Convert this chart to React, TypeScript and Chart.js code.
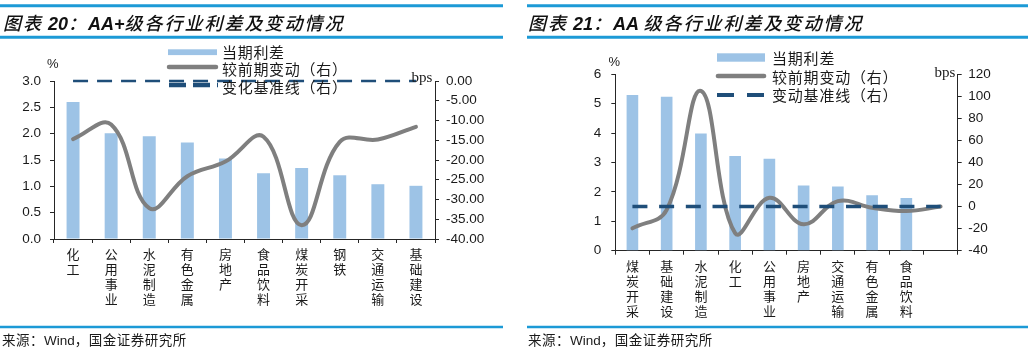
import React, { useEffect, useRef } from 'react';
import { Chart, registerables } from 'chart.js';

Chart.register(...registerables);

// ---------- data ----------
const categories1 = ['化工', '公用事业', '水泥制造', '有色金属', '房地产', '食品饮料', '煤炭开采', '钢铁', '交通运输', '基础建设'];
const spread1 = [2.6, 2.01, 1.95, 1.83, 1.53, 1.25, 1.35, 1.21, 1.04, 1.01];
const change1 = [-14.7, -11.0, -32.2, -24.1, -20.4, -14.1, -36.5, -15.4, -14.8, -11.6];
const baseline1 = [0, 0, 0, 0, 0, 0, 0, 0, 0, 0];
const leftTicks1 = [0, 0.5, 1.0, 1.5, 2.0, 2.5, 3.0];
const rightTicks1 = [-40, -35, -30, -25, -20, -15, -10, -5, 0];

const categories2 = ['煤炭开采', '基础建设', '水泥制造', '化工', '公用事业', '房地产', '交通运输', '有色金属', '食品饮料', ''];
const spread2 = [5.3, 5.24, 3.99, 3.22, 3.13, 2.22, 2.18, 1.89, 1.79, null];
const change2 = [-19.7, -3, 105, -24, 8, -16, 5, -1, -4, 0];
const baseline2 = [0, 0, 0, 0, 0, 0, 0, 0, 0, 0];
const leftTicks2 = [0, 1, 2, 3, 4, 5, 6];
const rightTicks2 = [-40, -20, 0, 20, 40, 60, 80, 100, 120];

const seriesNames1 = ['当期利差', '较前期变动（右）', '变化基准线（右）'];
const seriesNames2 = ['当期利差', '较前期变动（右）', '变动基准线（右）'];

// ---------- styles ----------
const BAR = '#9DC3E6';
const GRAY = '#7F7F7F';
const NAVY = '#1F4E79';
const AXIS = '#262626';
const RULE = '#1C9AD6';
const CJK = "'Noto Sans CJK SC', sans-serif";
const LAT = "'Liberation Sans', Arial, sans-serif";
const SERIF = "'Liberation Serif', 'Times New Roman', serif";

type Cfg = {
  labels: string[];
  spread: (number | null)[];
  change: number[];
  baseline: number[];
  names: string[];
  lt: number[];
  rt: number[];
  ldec: number;
  rdec: number;
  leftW: number;
  rightW: number;
  top: number;
  xHeight: number;
  dash: number[];
  dashW: number;
  tickFont: number;
  lpad: number;
  rpad: number;
};

function ChartCanvas({ cfg, left }: { cfg: Cfg; left: number }) {
  const ref = useRef<HTMLCanvasElement>(null);
  useEffect(() => {
    const tickColor = '#1a1a1a';
    const chart = new Chart(ref.current as HTMLCanvasElement, {
      type: 'bar',
      data: {
        labels: cfg.labels.map((s) => (s ? s.split('') : '')) as any,
        datasets: [
          {
            type: 'bar',
            label: cfg.names[0],
            data: cfg.spread as any,
            backgroundColor: BAR,
            yAxisID: 'y',
            order: 3,
            barPercentage: 0.34,
            categoryPercentage: 1,
          },
          {
            type: 'line',
            label: cfg.names[1],
            data: cfg.change,
            borderColor: GRAY,
            borderWidth: 4,
            tension: 0.4,
            pointRadius: 0,
            yAxisID: 'y1',
            order: 2,
            clip: false as any,
            borderCapStyle: 'round',
            borderJoinStyle: 'round',
          },
          {
            type: 'line',
            label: cfg.names[2],
            data: cfg.baseline,
            borderColor: NAVY,
            borderWidth: cfg.dashW,
            borderDash: cfg.dash,
            pointRadius: 0,
            yAxisID: 'y1',
            order: 1,
            clip: false as any,
          },
        ] as any,
      },
      options: {
        responsive: false,
        animation: false,
        devicePixelRatio: 1,
        layout: { padding: { top: cfg.top, left: 0, right: 0, bottom: 0 } },
        plugins: { legend: { display: false }, tooltip: { enabled: false } },
        scales: {
          x: {
            offset: true,
            grid: { display: true, drawOnChartArea: false, drawTicks: true, tickLength: 4, color: AXIS, offset: true },
            border: { color: AXIS },
            ticks: {
              font: { family: CJK, size: 13, lineHeight: 15 / 13 },
              color: tickColor,
              padding: 4,
              maxRotation: 0,
              minRotation: 0,
              autoSkip: false,
            },
            afterFit: (s: any) => {
              s.height = cfg.xHeight;
            },
          },
          y: {
            position: 'left',
            min: cfg.lt[0],
            max: cfg.lt[cfg.lt.length - 1],
            grid: { drawOnChartArea: false, drawTicks: true, tickLength: 4, color: AXIS },
            border: { color: AXIS },
            ticks: {
              stepSize: cfg.lt[1] - cfg.lt[0],
              callback: (v: any) => Number(v).toFixed(cfg.ldec),
              font: { family: LAT, size: cfg.tickFont },
              color: tickColor,
              padding: cfg.lpad,
            },
            afterFit: (s: any) => {
              s.width = cfg.leftW;
            },
          },
          y1: {
            position: 'right',
            min: cfg.rt[0],
            max: cfg.rt[cfg.rt.length - 1],
            grid: { drawOnChartArea: false, drawTicks: true, tickLength: 4, color: AXIS },
            border: { color: AXIS },
            ticks: {
              stepSize: cfg.rt[1] - cfg.rt[0],
              callback: (v: any) => Number(v).toFixed(cfg.rdec),
              font: { family: LAT, size: cfg.tickFont },
              color: tickColor,
              padding: cfg.rpad,
            },
            afterFit: (s: any) => {
              s.width = cfg.rightW;
            },
          },
        },
      } as any,
    });
    return () => chart.destroy();
  }, []);
  return (
    <canvas
      ref={ref}
      width={510}
      height={351}
      style={{ position: 'absolute', left, top: 0, width: 510, height: 351 }}
    />
  );
}

const cfg1: Cfg = {
  labels: categories1,
  spread: spread1,
  change: change1,
  baseline: baseline1,
  names: seriesNames1,
  lt: leftTicks1,
  rt: rightTicks1,
  ldec: 1,
  rdec: 2,
  leftW: 54,
  rightW: 75,
  top: 81,
  xHeight: 112,
  dash: [15, 9],
  dashW: 2.5,
  tickFont: 13.5,
  lpad: 9,
  rpad: 7,
};

const cfg2: Cfg = {
  labels: categories2,
  spread: spread2,
  change: change2,
  baseline: baseline2,
  names: seriesNames2,
  lt: leftTicks2,
  rt: rightTicks2,
  ldec: 0,
  rdec: 0,
  leftW: 97.3,
  rightW: 70.3,
  top: 74.3,
  xHeight: 100.3,
  dash: [15, 11.7],
  dashW: 3.5,
  tickFont: 13.5,
  lpad: 10,
  rpad: 6.5,
};

function T({ x, cy, size, family, children, style }: any) {
  const lh = Math.round(size * 1.3);
  return (
    <div
      style={{
        position: 'absolute',
        left: x,
        top: cy - lh / 2,
        fontSize: size,
        lineHeight: `${lh}px`,
        fontFamily: family,
        whiteSpace: 'nowrap',
        color: '#1a1a1a',
        ...style,
      }}
    >
      {children}
    </div>
  );
}

function Title({ x, num, grade }: { x: number; num: string; grade: string }) {
  const cj: React.CSSProperties = { fontFamily: CJK, fontStyle: 'italic', fontWeight: 500, letterSpacing: 2 };
  const la: React.CSSProperties = { fontFamily: LAT, fontStyle: 'italic', fontWeight: 700 };
  return (
    <T x={x} cy={22} size={18} family={CJK} style={{ color: '#111' }}>
      <span style={cj}>图表</span>
      <span style={la}> {num}</span>
      <span style={cj}>：</span>
      <span style={la}>{grade}</span>
      <span style={cj}>级各行业利差及变动情况</span>
    </T>
  );
}

function Source({ x }: { x: number }) {
  return (
    <T x={x} cy={339} size={13.5} family={CJK} style={{ color: '#1a1a1a' }}>
      <span style={{ letterSpacing: 0.5 }}>来源：</span>
      <span style={{ fontFamily: LAT }}>Wind</span>
      <span style={{ letterSpacing: 0.5 }}>，国金证券研究所</span>
    </T>
  );
}

export default function App() {
  return (
    <div
      style={{
        position: 'fixed',
        left: 0,
        top: 0,
        width: 1028,
        height: 351,
        background: '#fff',
        overflow: 'hidden',
      }}
    >
      <ChartCanvas cfg={cfg1} left={0} />
      <ChartCanvas cfg={cfg2} left={518} />

      <svg width={1028} height={351} style={{ position: 'absolute', left: 0, top: 0, pointerEvents: 'none' }}>
        {/* header / footer rules */}
        <line x1={0} y1={5.7} x2={503} y2={5.7} stroke={RULE} strokeWidth={3} />
        <line x1={0} y1={37.3} x2={503} y2={37.3} stroke={RULE} strokeWidth={3} />
        <line x1={0} y1={327} x2={503} y2={327} stroke={RULE} strokeWidth={2.7} />
        <line x1={527} y1={5.7} x2={1028} y2={5.7} stroke={RULE} strokeWidth={3} />
        <line x1={527} y1={37.3} x2={1028} y2={37.3} stroke={RULE} strokeWidth={3} />
        <line x1={527} y1={327} x2={1028} y2={327} stroke={RULE} strokeWidth={2.7} />

        {/* legend keys chart 1 */}
        <rect x={168} y={49.3} width={49} height={5.8} fill={BAR} />
        <line x1={169} y1={67} x2={216} y2={67} stroke={GRAY} strokeWidth={4.5} strokeLinecap="round" />
        <line x1={169} y1={85} x2={218} y2={85} stroke={NAVY} strokeWidth={4.5} strokeDasharray="17 7" />

        {/* legend keys chart 2 */}
        <rect x={717} y={53.3} width={48} height={8.4} fill={BAR} />
        <line x1={718} y1={76} x2={764} y2={76} stroke={GRAY} strokeWidth={4.7} strokeLinecap="round" />
        <line x1={717} y1={95} x2={765} y2={95} stroke={NAVY} strokeWidth={4.2} strokeDasharray="17 13" />
      </svg>

      <Title x={3} num="20" grade="AA+" />
      <Title x={528} num="21" grade="AA " />

      {/* legend texts */}
      <T x={222} cy={51.7} size={15} family={CJK} style={{ letterSpacing: 0.7 }}>{seriesNames1[0]}</T>
      <T x={222} cy={69.3} size={15} family={CJK} style={{ letterSpacing: 0.7 }}>{seriesNames1[1]}</T>
      <T x={222} cy={86.7} size={15} family={CJK} style={{ letterSpacing: 0.7 }}>{seriesNames1[2]}</T>

      <T x={772} cy={57.5} size={15} family={CJK} style={{ letterSpacing: 0.8 }}>{seriesNames2[0]}</T>
      <T x={772} cy={76.7} size={15} family={CJK} style={{ letterSpacing: 0.8 }}>{seriesNames2[1]}</T>
      <T x={772} cy={95} size={15} family={CJK} style={{ letterSpacing: 0.8 }}>{seriesNames2[2]}</T>

      {/* unit labels */}
      <T x={47} cy={63} size={13} family={LAT}>%</T>
      <T x={411.5} cy={76.5} size={15} family={SERIF}>bps</T>
      <T x={608.5} cy={61.7} size={13} family={LAT}>%</T>
      <T x={934.5} cy={72} size={15} family={SERIF}>bps</T>

      <Source x={2} />
      <Source x={528} />
    </div>
  );
}
